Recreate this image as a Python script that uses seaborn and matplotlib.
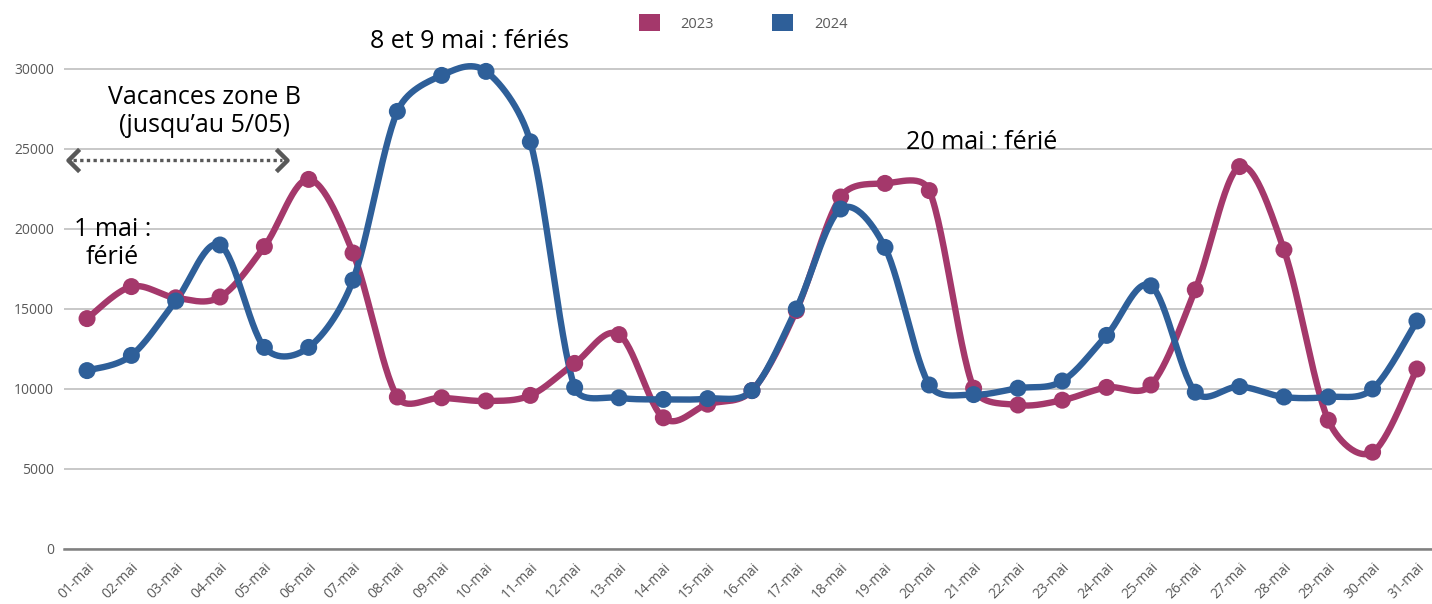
import numpy as np
import pandas as pd
import seaborn as sns
import matplotlib.pyplot as plt
from matplotlib.patches import Patch
from matplotlib.path import Path

sns.set_theme(style='white')
plt.rcParams['font.family'] = ['Open Sans', 'DejaVu Sans']

# Data
days = ['%02d-mai' % d for d in range(1, 32)]
val_2023 = [14400, 16400, 15700, 15750, 18900, 23100, 18500, 9500, 9450, 9250,
            9600, 11600, 13400, 8200, 9050, 9900, 14900, 22000, 22850, 22400,
            10050, 9000, 9300, 10100, 10250, 16200, 23900, 18700, 8050, 6050, 11250]
val_2024 = [11150, 12100, 15500, 19000, 12600, 12600, 16800, 27350, 29600, 29850,
            25450, 10100, 9450, 9350, 9400, 9900, 15000, 21250, 18850, 10250,
            9650, 10050, 10500, 13350, 16450, 9800, 10150, 9500, 9500, 10000, 14250]

COL_2023 = '#A4386B'
COL_2024 = '#2E5F99'
GREY_TXT = '#595959'

# screen scale (px per x unit, px per y unit) used for the spline shape
SX, SY = 44.33, 0.016
CAP = 0.4  # max handle length as a share of the segment length


def smooth(y, steps=30):
    """Excel-like smoothed line: Catmull-Rom bezier with capped handles."""
    y = np.asarray(y, dtype=float)
    pts = np.column_stack([np.arange(len(y)) * SX, y * SY])
    n = len(pts)
    t = np.linspace(0, 1, steps, endpoint=False)[:, None]
    out = []
    for i in range(n - 1):
        p0 = pts[max(i - 1, 0)]
        p1, p2 = pts[i], pts[i + 1]
        p3 = pts[min(i + 2, n - 1)]
        d12 = np.hypot(*(p2 - p1))
        d02 = np.hypot(*(p2 - p0))
        d13 = np.hypot(*(p3 - p1))
        f = 1 / 6 if d02 / 6 < d12 * CAP else d12 * CAP / d02
        g = 1 / 6 if d13 / 6 < d12 * CAP else d12 * CAP / d13
        c1 = p1 + f * (p2 - p0)
        c2 = p2 - g * (p3 - p1)
        out.append((1 - t) ** 3 * p1 + 3 * (1 - t) ** 2 * t * c1
                   + 3 * (1 - t) * t ** 2 * c2 + t ** 3 * p2)
    out.append(pts[-1:])
    out = np.vstack(out)
    return out[:, 0] / SX, out[:, 1] / SY


fig = plt.figure(figsize=(14.32, 6.04), dpi=100)
ymax = 31500
ax = fig.add_axes([64 / 1432, 55 / 604, 1368 / 1432, (549 - 45) / 604])

for vals, col in ((val_2023, COL_2023), (val_2024, COL_2024)):
    sx, sy = smooth(vals)
    sns.lineplot(x=sx, y=sy, ax=ax, color=col, lw=4.6, sort=False,
                 estimator=None, clip_on=False, zorder=3)
    sns.scatterplot(x=np.arange(len(vals)), y=vals, ax=ax, color=col, s=150,
                    edgecolor='none', clip_on=False, zorder=4)

ax.set_xlim(-0.52, 30.34)
ax.set_ylim(0, ymax)
ax.set_yticks(range(0, 30001, 5000))
ax.set_xticks(range(len(days)))
ax.set_xticklabels(days, rotation=45, ha='right', rotation_mode='anchor')
ax.tick_params(axis='both', labelsize=10, colors=GREY_TXT, length=0, pad=7)
ax.tick_params(axis='x', pad=8)
ax.yaxis.grid(True, color='#c8c8c8', lw=1.4)
ax.set_axisbelow(True)
for s in ('top', 'right', 'left'):
    ax.spines[s].set_visible(False)
ax.spines['bottom'].set_color('#808080')
ax.spines['bottom'].set_linewidth(1.8)
ax.set_xlabel('')
ax.set_ylabel('')

# Annotations
FS = 18
ax.text(8.63, 31700, '8 et 9 mai : fériés', ha='center', va='center', fontsize=FS,
        color='black')
ax.text(2.64, 27350, 'Vacances zone B\n(jusqu\u2019au 5/05)', ha='center', va='center',
        fontsize=FS, color='black', linespacing=1.15)
ax.text(0.575, 19100, '1 mai :\nférié', ha='center', va='center', fontsize=FS,
        color='black', linespacing=1.15)
ax.text(20.19, 25380, '20 mai : férié', ha='center', va='center', fontsize=FS,
        color='black')

# dotted double arrow for the holiday period
ay = 24300
ax.plot([-0.32, 4.40], [ay, ay], color=GREY_TXT, lw=2.4,
        linestyle=(0, (1, 1)), dash_capstyle='butt', clip_on=False)
chev_l = Path([(1, 1), (0, 0), (1, -1)], [Path.MOVETO, Path.LINETO, Path.LINETO])
chev_r = Path([(-1, 1), (0, 0), (-1, -1)], [Path.MOVETO, Path.LINETO, Path.LINETO])
ax.plot([-0.43], [ay], marker=chev_l, markersize=16, mfc='none', mec=GREY_TXT,
        mew=3.2, ls='none', clip_on=False)
ax.plot([4.51], [ay], marker=chev_r, markersize=16, mfc='none', mec=GREY_TXT,
        mew=3.2, ls='none', clip_on=False)

handles = [Patch(facecolor=COL_2023, edgecolor='none'),
           Patch(facecolor=COL_2024, edgecolor='none')]
fig.legend(handles, ['2023', '2024'], loc='center', bbox_to_anchor=(0.519, 0.962),
           ncol=2, frameon=False, fontsize=10.5, labelcolor=GREY_TXT,
           handlelength=1.44, handleheight=1.44, columnspacing=4.0,
           handletextpad=1.44)

fig.savefig('out.png', dpi=100)
